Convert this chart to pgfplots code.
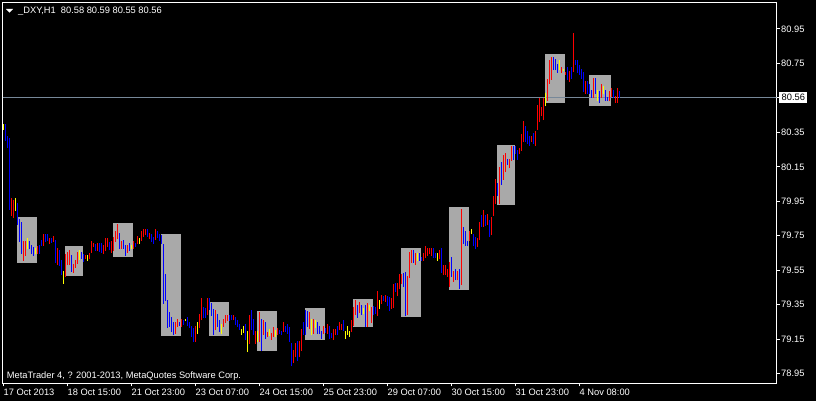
\documentclass[border=0pt]{standalone}
\usepackage{fontspec}
\setmainfont{Liberation Sans}
\usepackage{pgfplots}
\usepackage{pgfplotstable}
\pgfplotsset{compat=1.18}
\definecolor{barred}{RGB}{255,0,0}
\definecolor{barblue}{RGB}{0,0,255}
\definecolor{baryellow}{RGB}{255,255,0}
\definecolor{boxgray}{RGB}{169,169,169}
\definecolor{bidline}{RGB}{119,136,153}

\pgfplotstableread{
x lo hi
4 79.865 79.969
5 79.853 79.958
10 79.604 79.720
11 79.633 79.720
17 79.644 79.691
20 79.691 79.760
23 79.702 79.737
25 79.714 79.749
27 79.580 79.679
31 79.511 79.644
32 79.580 79.656
33 79.580 79.667
35 79.534 79.586
36 79.563 79.609
37 79.586 79.656
41 79.615 79.638
43 79.615 79.650
44 79.650 79.720
45 79.685 79.708
47 79.662 79.708
50 79.644 79.696
51 79.662 79.737
52 79.685 79.737
54 79.650 79.720
55 79.662 79.743
56 79.714 79.778
57 79.731 79.818
59 79.673 79.720
62 79.650 79.696
65 79.673 79.720
67 79.702 79.749
69 79.720 79.778
70 79.743 79.789
71 79.754 79.789
73 79.731 79.766
76 79.725 79.789
86 79.180 79.250
87 79.221 79.267
89 79.221 79.267
96 79.133 79.226
98 79.215 79.296
99 79.261 79.389
102 79.290 79.389
106 79.203 79.319
110 79.221 79.267
111 79.244 79.290
112 79.255 79.290
115 79.261 79.290
123 79.122 79.290
126 79.122 79.197
128 79.133 79.308
130 79.174 79.261
132 79.163 79.192
134 79.145 79.186
135 79.163 79.221
137 79.174 79.215
140 79.192 79.250
145 79.011 79.087
146 79.046 79.128
148 79.046 79.139
149 79.081 79.209
153 79.209 79.308
155 79.180 79.267
160 79.180 79.226
162 79.180 79.238
165 79.145 79.209
166 79.174 79.209
168 79.203 79.250
169 79.203 79.238
174 79.192 79.261
175 79.226 79.337
176 79.290 79.377
178 79.302 79.366
182 79.221 79.360
184 79.244 79.337
187 79.284 79.430
189 79.354 79.406
191 79.366 79.406
194 79.325 79.389
195 79.331 79.470
197 79.400 79.476
198 79.441 79.528
199 79.470 79.528
202 79.290 79.517
203 79.505 79.656
204 79.592 79.667
206 79.580 79.650
210 79.604 79.650
211 79.621 79.691
212 79.633 79.679
213 79.644 79.679
214 79.633 79.679
218 79.615 79.667
220 79.522 79.580
221 79.522 79.580
222 79.511 79.557
223 79.453 79.598
225 79.482 79.546
227 79.493 79.546
229 79.464 79.905
233 79.720 79.778
237 79.685 79.737
238 79.725 79.830
240 79.801 79.900
242 79.813 79.876
244 79.754 79.859
245 79.865 79.981
246 79.934 80.079
248 79.934 80.149
250 80.074 80.219
251 80.120 80.230
253 80.143 80.196
254 80.184 80.271
258 80.225 80.259
259 80.242 80.341
260 80.294 80.416
264 80.294 80.329
266 80.271 80.358
267 80.364 80.509
268 80.410 80.550
269 80.445 80.497
270 80.422 80.550
272 80.532 80.660
273 80.631 80.770
274 80.654 80.787
279 80.695 80.729
281 80.683 80.700
283 80.642 80.706
285 80.700 80.927
291 80.573 80.648
295 80.550 80.666
299 80.550 80.631
303 80.532 80.590
304 80.555 80.608
306 80.521 80.561
307 80.521 80.608
}\redbars

\pgfplotstableread{
x lo hi
0 80.364 80.399
6 79.894 79.969
12 79.673 79.737
16 79.644 79.679
30 79.470 79.546
38 79.609 79.667
42 79.604 79.638
64 79.673 79.696
68 79.702 79.737
91 79.255 79.267
97 79.180 79.250
109 79.180 79.238
119 79.174 79.209
120 79.186 79.226
122 79.075 79.197
127 79.133 79.197
133 79.168 79.209
136 79.163 79.203
154 79.174 79.267
156 79.215 79.261
171 79.151 79.197
172 79.174 79.226
173 79.163 79.197
180 79.296 79.331
183 79.313 79.348
188 79.325 79.377
207 79.604 79.650
217 79.604 79.650
234 79.760 79.789
271 80.503 80.579
278 80.712 80.770
280 80.706 80.718
297 80.532 80.596
300 80.573 80.619
}\yellowbars

\pgfplotstableread{
x lo hi
1 80.300 80.399
2 80.259 80.329
3 79.900 80.317
7 79.813 79.940
8 79.714 79.847
9 79.644 79.830
13 79.673 79.720
14 79.644 79.696
15 79.633 79.685
18 79.644 79.696
19 79.691 79.725
21 79.714 79.760
22 79.720 79.760
24 79.708 79.737
26 79.592 79.725
28 79.575 79.667
29 79.522 79.609
34 79.540 79.638
39 79.615 79.656
40 79.598 79.644
46 79.662 79.702
48 79.656 79.708
49 79.650 79.708
53 79.667 79.714
58 79.673 79.766
60 79.673 79.725
61 79.633 79.696
63 79.662 79.708
66 79.685 79.708
72 79.743 79.789
74 79.714 79.760
75 79.702 79.743
77 79.737 79.778
78 79.720 79.760
79 79.702 79.754
80 79.354 79.702
81 79.371 79.528
82 79.215 79.377
83 79.221 79.308
84 79.192 79.279
85 79.174 79.250
88 79.226 79.250
90 79.232 79.261
92 79.226 79.279
93 79.215 79.250
94 79.163 79.226
95 79.133 79.215
100 79.273 79.337
101 79.273 79.331
103 79.319 79.389
104 79.284 79.360
105 79.174 79.325
107 79.221 79.296
108 79.192 79.261
113 79.255 79.290
114 79.261 79.290
116 79.232 79.279
117 79.221 79.261
118 79.203 79.238
121 79.145 79.238
124 79.203 79.319
125 79.174 79.267
129 79.081 79.267
131 79.151 79.250
138 79.180 79.203
139 79.174 79.197
141 79.192 79.226
142 79.180 79.238
143 79.133 79.221
144 78.994 79.128
147 79.023 79.139
150 79.174 79.250
151 79.174 79.319
152 79.221 79.313
157 79.180 79.250
158 79.180 79.226
159 79.151 79.197
161 79.186 79.215
163 79.151 79.226
164 79.157 79.186
167 79.174 79.226
170 79.197 79.261
177 79.273 79.348
179 79.290 79.348
181 79.221 79.348
185 79.290 79.342
186 79.296 79.337
190 79.371 79.400
192 79.342 79.400
193 79.313 79.395
196 79.424 79.476
200 79.453 79.534
201 79.284 79.540
205 79.592 79.667
208 79.604 79.650
209 79.604 79.627
215 79.621 79.679
216 79.621 79.650
219 79.534 79.679
224 79.511 79.627
226 79.493 79.557
228 79.441 79.557
230 79.702 79.801
231 79.691 79.778
232 79.691 79.720
235 79.691 79.760
236 79.673 79.743
239 79.801 79.871
241 79.807 79.871
243 79.743 79.842
247 79.981 80.056
249 80.045 80.178
252 80.161 80.196
255 80.190 80.271
256 80.225 80.271
257 80.190 80.248
261 80.294 80.387
262 80.283 80.358
263 80.271 80.329
265 80.283 80.346
275 80.712 80.787
276 80.712 80.776
277 80.695 80.747
282 80.654 80.729
284 80.660 80.729
286 80.741 80.770
287 80.695 80.770
288 80.683 80.741
289 80.660 80.718
290 80.584 80.700
292 80.573 80.648
293 80.573 80.631
294 80.550 80.596
296 80.573 80.666
298 80.521 80.590
301 80.532 80.596
302 80.532 80.555
305 80.550 80.596
308 80.550 80.590
}\bluebars

\begin{document}
\begin{tikzpicture}[font=\fontsize{9.3}{11}\selectfont]
\fill[black] (-2.5pt,-17.5pt) rectangle (813.5pt,383.5pt);
\begin{axis}[name=ax, at={(0pt,0pt)}, anchor=south west,
  scale only axis, width=774pt, height=381pt,
  xmin=-0.5, xmax=386.5, ymin=78.8925, ymax=81.1038,
  axis line style={white, line width=1pt},
  xtick={0,32,64,96,128,160,192,224,256,288},
  xticklabels={17 Oct 2013,18 Oct 15:00,21 Oct 23:00,23 Oct 07:00,24 Oct 15:00,25 Oct 23:00,29 Oct 07:00,30 Oct 15:00,31 Oct 23:00,4 Nov 08:00},
  ytick={78.95,79.15,79.35,79.55,79.75,79.95,80.15,80.35,80.55,80.75,80.95},
  yticklabels={78.95,79.15,79.35,79.55,79.75,79.95,80.15,80.35,80.55,80.75,80.95},
  xtick pos=left, ytick pos=right, yticklabel pos=right,
  tick align=outside, major tick length=3pt,
  tick style={white, line width=1pt},
  tick label style={white, font=\fontsize{9.3}{11}\selectfont},
  xticklabel style={anchor=north west, inner sep=0pt, yshift=-2.8pt},
  yticklabel style={anchor=west, inner sep=0pt, xshift=1.5pt},
  ohlc/.style={draw=none, mark=none, error bars/.cd, y dir=plus, y explicit,
    error mark=none, error bar style={draw=#1, line width=1pt, solid}},
]
\addplot[fill=boxgray, draw=none] coordinates {(6.75,79.592) (16.75,79.592) (16.75,79.859) (6.75,79.859)} -- cycle;
\addplot[fill=boxgray, draw=none] coordinates {(30.75,79.517) (39.75,79.517) (39.75,79.691) (30.75,79.691)} -- cycle;
\addplot[fill=boxgray, draw=none] coordinates {(54.75,79.627) (64.75,79.627) (64.75,79.824) (54.75,79.824)} -- cycle;
\addplot[fill=boxgray, draw=none] coordinates {(78.75,79.168) (88.75,79.168) (88.75,79.760) (78.75,79.760)} -- cycle;
\addplot[fill=boxgray, draw=none] coordinates {(102.75,79.168) (112.75,79.168) (112.75,79.366) (102.75,79.366)} -- cycle;
\addplot[fill=boxgray, draw=none] coordinates {(126.75,79.081) (136.75,79.081) (136.75,79.313) (126.75,79.313)} -- cycle;
\addplot[fill=boxgray, draw=none] coordinates {(150.75,79.145) (160.75,79.145) (160.75,79.331) (150.75,79.331)} -- cycle;
\addplot[fill=boxgray, draw=none] coordinates {(174.75,79.221) (184.75,79.221) (184.75,79.383) (174.75,79.383)} -- cycle;
\addplot[fill=boxgray, draw=none] coordinates {(198.75,79.279) (208.75,79.279) (208.75,79.679) (198.75,79.679)} -- cycle;
\addplot[fill=boxgray, draw=none] coordinates {(222.75,79.435) (232.75,79.435) (232.75,79.917) (222.75,79.917)} -- cycle;
\addplot[fill=boxgray, draw=none] coordinates {(246.75,79.929) (255.75,79.929) (255.75,80.277) (246.75,80.277)} -- cycle;
\addplot[fill=boxgray, draw=none] coordinates {(270.75,80.521) (280.75,80.521) (280.75,80.805) (270.75,80.805)} -- cycle;
\addplot[fill=boxgray, draw=none] coordinates {(292.75,80.503) (303.75,80.503) (303.75,80.683) (292.75,80.683)} -- cycle;
\addplot[bidline, line width=1pt] coordinates {(-0.5,80.555) (386.5,80.555)};
\addplot[ohlc=barred] table[x=x, y=lo, y error plus expr=\thisrow{hi}-\thisrow{lo}] {\redbars};
\addplot[ohlc=barblue] table[x=x, y=lo, y error plus expr=\thisrow{hi}-\thisrow{lo}] {\bluebars};
\addplot[ohlc=baryellow] table[x=x, y=lo, y error plus expr=\thisrow{hi}-\thisrow{lo}] {\yellowbars};
\coordinate (bid) at (axis cs:386.5,80.555);
\end{axis}
\node[fill=white, text=black, anchor=west, inner xsep=2.5pt, inner ysep=0pt, minimum height=11pt] at ([xshift=2.5pt]bid) {80.56};
\fill[white] ([xshift=3.5pt,yshift=-6.5pt]ax.north west) -- ([xshift=10.5pt,yshift=-6.5pt]ax.north west) -- ([xshift=7pt,yshift=-10.2pt]ax.north west) -- cycle;
\node[anchor=base west, white, inner sep=0pt] at ([xshift=15.5pt,yshift=-11.5pt]ax.north west) {\textunderscore DXY,H1\ \ 80.58 80.59 80.55 80.56};
\node[anchor=base west, white, inner sep=0pt] at ([xshift=4.2pt,yshift=5pt]ax.south west) {MetaTrader 4, ? 2001-2013, MetaQuotes Software Corp.};
\end{tikzpicture}
\end{document}
